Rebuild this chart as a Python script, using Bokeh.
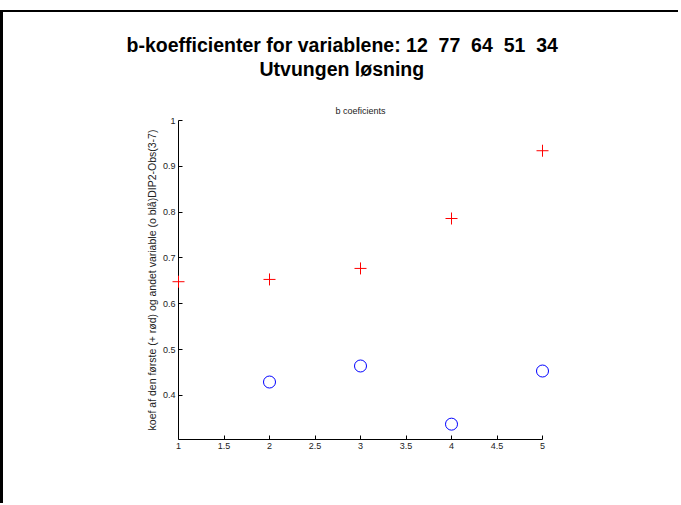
from bokeh.plotting import figure
from bokeh.models import Title, FixedTicker, Range1d
from bokeh.embed import file_html
from bokeh.resources import INLINE

# data
x_first = [1, 2, 3, 4, 5]
b_first = [0.648, 0.653, 0.677, 0.786, 0.934]
x_second = [2, 3, 4, 5]
b_second = [0.429, 0.464, 0.337, 0.453]
x_ticks = [1, 1.5, 2, 2.5, 3, 3.5, 4, 4.5, 5]
x_tick_labels = ["1", "1.5", "2", "2.5", "3", "3.5", "4", "4.5", "5"]
y_ticks = [0.4, 0.5, 0.6, 0.7, 0.8, 0.9, 1.0]
y_tick_labels = ["0.4", "0.5", "0.6", "0.7", "0.8", "0.9", "1"]
x_axis_span = (1, 5)
y_axis_span = (0.3035, 1.0)
title_line1 = "b-koefficienter for variablene: 12\u00a0 77\u00a0 64\u00a0 51\u00a0 34"
title_line2 = "Utvungen løsning"
axes_title = "b coeficients"
y_label = "koef af den første (+ rød) og andet variable (o blå)DIP2-Obs(3-7)"

FONT = "Liberation Sans"
TXT = "#222222"

# the plotting frame is padded (white, invisible) so that markers on the
# axis limits are not clipped; the axes are drawn only over the spans
px_x = 4 / 364                      # data units per pixel along x
px_y = (y_axis_span[1] - y_axis_span[0]) / 319
p = figure(width=678, height=493, output_backend="svg", toolbar_location=None,
           x_range=Range1d(x_axis_span[0] - 40 * px_x, x_axis_span[1] + 10 * px_x),
           y_range=Range1d(y_axis_span[0], y_axis_span[1] + 5 * px_y),
           min_border_left=135, min_border_right=129,
           min_border_top=103, min_border_bottom=66)
p.styles = {"margin-left": "0px", "margin-top": "10px",
            "border-top": "2px solid black", "border-left": "3px solid black"}
p.outline_line_color = None
p.xgrid.grid_line_color = None
p.ygrid.grid_line_color = None
p.background_fill_color = "white"
p.border_fill_color = "white"

for ax in (p.xaxis[0], p.yaxis[0]):
    ax.major_tick_in = 4
    ax.major_tick_out = 0
    ax.minor_tick_in = 0
    ax.minor_tick_out = 0
    ax.axis_line_color = "black"
    ax.major_tick_line_color = "black"
    ax.major_label_text_font = FONT
    ax.major_label_text_font_size = "9px"
    ax.major_label_text_color = TXT

p.xaxis.bounds = x_axis_span
p.xaxis.ticker = FixedTicker(ticks=x_ticks)
p.xaxis.major_label_overrides = {t: l for t, l in zip(x_ticks, x_tick_labels)}
p.xaxis.major_label_standoff = 3
p.yaxis.fixed_location = x_axis_span[0]
p.yaxis.bounds = y_axis_span
p.yaxis.ticker = FixedTicker(ticks=y_ticks)
p.yaxis.major_label_overrides = {t: l for t, l in zip(y_ticks, y_tick_labels)}
p.yaxis.major_label_standoff = 3
p.yaxis.axis_label = y_label
p.yaxis.axis_label_text_font = FONT
p.yaxis.axis_label_text_font_size = "10.5px"
p.yaxis.axis_label_text_font_style = "normal"
p.yaxis.axis_label_text_color = TXT
p.yaxis.axis_label_standoff = 2

# first variable: red '+' (one renderer per point keeps the SVG strokes red)
for xv, yv in zip(x_first, b_first):
    p.scatter([xv], [yv], marker="cross", size=12, line_color="red",
              fill_color=None, line_width=1, level="overlay")
# second variable: blue 'o'
p.scatter(x_second, b_second, marker="circle", size=12, line_color="blue",
          fill_color=None, line_width=1, level="overlay")

# titles, stacked outward from the plotting frame
p.add_layout(Title(text=axes_title, align="left", offset=197, text_font=FONT,
                   text_color=TXT, text_font_size="9px", text_font_style="normal",
                   standoff=0), "above")
p.add_layout(Title(text=" ", align="left", text_font=FONT, text_font_size="9px",
                   standoff=11.6), "above")
p.add_layout(Title(text=title_line2, align="left", offset=121, text_font=FONT,
                   text_color="black", text_font_size="19.5px", text_font_style="bold",
                   standoff=0), "above")
p.add_layout(Title(text=title_line1, align="left", offset=-12, text_font=FONT,
                   text_color="black", text_font_size="19.5px", text_font_style="bold",
                   standoff=0), "above")

open("out.html", "w").write(file_html(p, INLINE))
